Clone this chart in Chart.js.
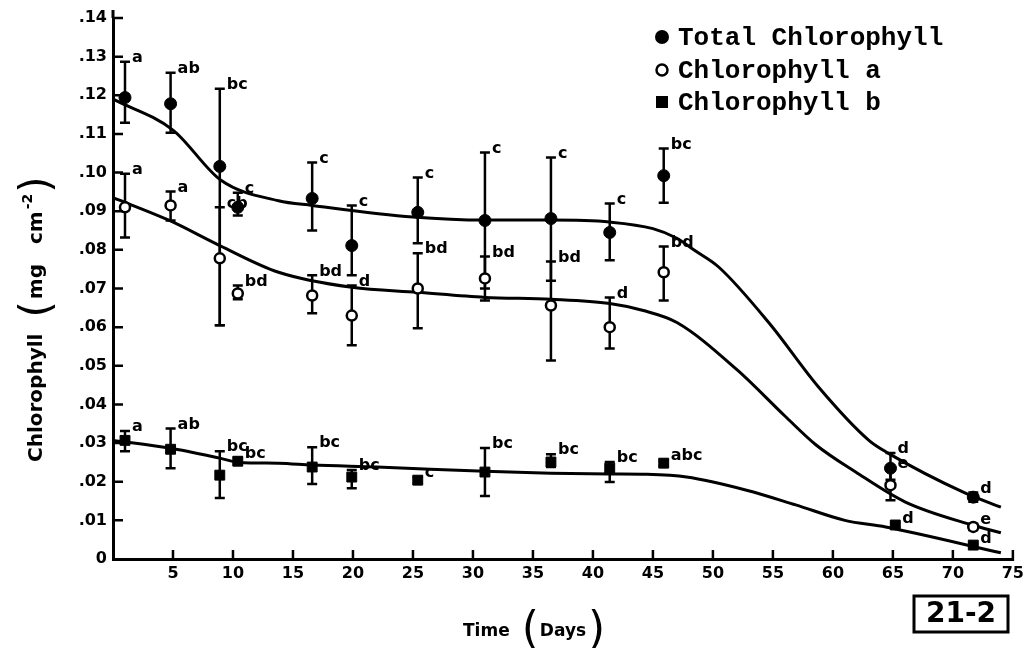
<!DOCTYPE html>
<html><head><meta charset="utf-8">
<script src="https://cdn.jsdelivr.net/npm/chart.js@4.4.1/dist/chart.umd.min.js"></script>
<style>html,body{margin:0;padding:0;background:#fff;overflow:hidden}canvas{display:block}</style>
</head><body>
<canvas id="c" width="1029" height="648"></canvas>
<script>
// ---- data ----
const seriesNames = ['Total Chlorophyll', 'Chlorophyll a', 'Chlorophyll b'];
const xTitleWord = 'Time', xTitleUnit = 'Days';
const yTitleWord = 'Chlorophyll', yTitleUnit = 'mg cm', yTitleExp = '-2';
const plateLabel = '21-2';

const xTicks = [5, 10, 15, 20, 25, 30, 35, 40, 45, 50, 55, 60, 65, 70, 75];
const xTickLabels = ['5','10','15','20','25','30','35','40','45','50','55','60','65','70','75'];
const yTicks = [0, 0.01, 0.02, 0.03, 0.04, 0.05, 0.06, 0.07, 0.08, 0.09, 0.10, 0.11, 0.12, 0.13, 0.14];
const yTickLabels = ['0','.01','.02','.03','.04','.05','.06','.07','.08','.09','.10','.11','.12','.13','.14'];

const totalDays = [1, 4.8, 8.9, 10.4, 16.6, 19.9, 25.4, 31, 36.5, 41.4, 45.9, 64.8, 71.7];
const totalMean = [0.1194, 0.1178, 0.1016, 0.0910, 0.0933, 0.0811, 0.0897, 0.0876, 0.0881, 0.0845, 0.0992, 0.0235, 0.0160];
const totalLow  = [0.1129, 0.1103, 0.0605, 0.0889, 0.0850, 0.0734, 0.0817, 0.0700, 0.0720, 0.0773, 0.0922, 0.0205, 0.0148];
const totalHigh = [0.1287, 0.1258, 0.1217, 0.0948, 0.1026, 0.0915, 0.0987, 0.1052, 0.1039, 0.0920, 0.1062, 0.0274, 0.0172];
const totalLetters = ['a','ab','bc','c','c','c','c','c','c','c','bc','d','d'];

const chlADays = [1, 4.8, 8.9, 10.4, 16.6, 19.9, 25.4, 31, 36.5, 41.4, 45.9, 64.8, 71.7];
const chlAMean = [0.0910, 0.0915, 0.0778, 0.0687, 0.0682, 0.0630, 0.0700, 0.0726, 0.0656, 0.0600, 0.0742, 0.0191, 0.0083];
const chlALow  = [0.0832, 0.0876, 0.0605, 0.0672, 0.0636, 0.0553, 0.0597, 0.0669, 0.0514, 0.0545, 0.0669, 0.0152, 0.0075];
const chlAHigh = [0.0997, 0.0951, 0.0910, 0.0708, 0.0734, 0.0708, 0.0791, 0.0783, 0.0770, 0.0677, 0.0809, 0.0235, 0.0091];
const chlALetters = ['a','a','cb','bd','bd','d','bd','bd','bd','d','bd','e','e'];

const chlBDays = [1, 4.8, 8.9, 10.4, 16.6, 19.9, 25.4, 31, 36.5, 41.4, 45.9, 65.2, 71.7];
const chlBMean = [0.0307, 0.0284, 0.0217, 0.0253, 0.0238, 0.0212, 0.0204, 0.0225, 0.0251, 0.0235, 0.0248, 0.0088, 0.0036];
const chlBLow  = [0.0279, 0.0235, 0.0158, 0.0245, 0.0194, 0.0183, 0.0196, 0.0163, 0.0238, 0.0199, 0.0241, 0.0083, 0.0031];
const chlBHigh = [0.0331, 0.0338, 0.0279, 0.0262, 0.0289, 0.0230, 0.0212, 0.0287, 0.0271, 0.0251, 0.0256, 0.0093, 0.0041];
const chlBLetters = ['a','ab','bc','bc','bc','bc','c','bc','bc','bc','abc','d','d'];

// hand-drawn fitted curves
const totalFitDays   = [0, 5, 9, 13.8, 16.6, 25, 31, 36.5, 41.4, 45, 47, 48.4, 50.5, 54.7, 58.8, 63, 64.6, 71, 74];
const totalFitValues = [0.119, 0.111, 0.098, 0.0927, 0.0915, 0.0885, 0.0877, 0.0877, 0.0872, 0.0855, 0.083, 0.080, 0.0755, 0.061, 0.0445, 0.0307, 0.0274, 0.0171, 0.0134];
const chlAFitDays    = [0, 4.7, 8.9, 13.8, 19.9, 25.4, 31, 36.5, 41.4, 44.2, 47, 52, 56, 58.6, 61.9, 66, 71.6, 74];
const chlAFitValues  = [0.0935, 0.0876, 0.0811, 0.0742, 0.0703, 0.069, 0.0677, 0.0672, 0.0661, 0.0643, 0.0612, 0.049, 0.037, 0.0295, 0.0225, 0.0148, 0.0088, 0.0068];
const chlBFitDays    = [0, 4.7, 8.9, 10.5, 13.8, 16.6, 22, 31, 36.5, 41.4, 44.5, 47.8, 52.8, 56.9, 61, 64.4, 74];
const chlBFitValues  = [0.0307, 0.0287, 0.0261, 0.025, 0.0248, 0.0243, 0.0238, 0.0227, 0.0222, 0.022, 0.0219, 0.0212, 0.0178, 0.014, 0.010, 0.0083, 0.0016];

// ---- build chart ----
const pts = (xs, ys) => xs.map((x, i) => ({x: x, y: ys[i]}));
const markerSeries = [
  {days: totalDays, lo: totalLow, hi: totalHigh, letters: totalLetters},
  {days: chlADays, lo: chlALow, hi: chlAHigh, letters: chlALetters},
  {days: chlBDays, lo: chlBLow, hi: chlBHigh, letters: chlBLetters}
];
const INK = '#000';
const tickFont = {family: 'DejaVu Sans', weight: 'bold', size: 16};

const curve = (xs, ys) => ({type: 'line', data: pts(xs, ys), borderColor: INK, borderWidth: 3,
  pointRadius: 0, cubicInterpolationMode: 'monotone', fill: false, order: 3, clip: false});

const errorBarPlugin = {
  id: 'errorBars',
  beforeDatasetsDraw(chart) {
    const {ctx, scales: {x, y}} = chart;
    ctx.save();
    ctx.strokeStyle = INK; ctx.lineWidth = 2.5; ctx.lineCap = 'butt';
    markerSeries.forEach(s => {
      s.days.forEach((d, i) => {
        const px = x.getPixelForValue(d);
        const yl = y.getPixelForValue(s.lo[i]), yh = y.getPixelForValue(s.hi[i]);
        ctx.beginPath();
        ctx.moveTo(px, yl); ctx.lineTo(px, yh);
        ctx.moveTo(px - 5, yl); ctx.lineTo(px + 5, yl);
        ctx.moveTo(px - 5, yh); ctx.lineTo(px + 5, yh);
        ctx.stroke();
      });
    });
    ctx.restore();
  },
  afterDatasetsDraw(chart) {
    const {ctx, scales: {x, y}} = chart;
    ctx.save();
    ctx.fillStyle = INK;
    ctx.font = 'bold 16px "DejaVu Sans"';
    ctx.textAlign = 'left'; ctx.textBaseline = 'middle';
    markerSeries.forEach(s => {
      s.days.forEach((d, i) => {
        const px = x.getPixelForValue(d);
        const yh = y.getPixelForValue(s.hi[i]);
        ctx.fillText(s.letters[i], px + 7, yh - 4);
      });
    });
    ctx.restore();
  }
};

const decorPlugin = {
  id: 'decor',
  afterDraw(chart) {
    const {ctx, chartArea: a, scales: {x, y}} = chart;
    ctx.save();
    ctx.strokeStyle = INK; ctx.fillStyle = INK; ctx.lineWidth = 2.5;
    // inward tick marks and short axis extension above the top tick
    ctx.beginPath();
    xTicks.forEach(v => { const px = x.getPixelForValue(v); ctx.moveTo(px, a.bottom + 2); ctx.lineTo(px, a.bottom - 9); });
    yTicks.forEach(v => { if (v === 0) return; const py = y.getPixelForValue(v); ctx.moveTo(a.left, py); ctx.lineTo(a.left + 10, py); });
    ctx.stroke();
    ctx.lineWidth = 3;
    ctx.beginPath(); ctx.moveTo(a.left, a.top); ctx.lineTo(a.left, a.top - 8); ctx.stroke();
    // y axis title
    ctx.save();
    ctx.translate(42, 462);
    ctx.rotate(-Math.PI / 2);
    ctx.textBaseline = 'alphabetic'; ctx.textAlign = 'left';
    let cx = 0;
    ctx.font = 'bold 20px "DejaVu Sans"';
    ctx.fillText(yTitleWord, cx, 0); cx += ctx.measureText(yTitleWord).width + 16;
    ctx.font = '42px "DejaVu Sans"';
    ctx.fillText('(', cx, 8); cx += ctx.measureText('(').width + 2;
    ctx.font = 'bold 20px "DejaVu Sans"';
    ctx.fillText(yTitleUnit.split(' ')[0], cx, 0); cx += ctx.measureText(yTitleUnit.split(' ')[0]).width + 20;
    ctx.fillText(yTitleUnit.split(' ')[1], cx, 0); cx += ctx.measureText(yTitleUnit.split(' ')[1]).width + 2;
    ctx.font = 'bold 14px "DejaVu Sans"';
    ctx.fillText(yTitleExp, cx, -10); cx += ctx.measureText(yTitleExp).width + 1;
    ctx.font = '42px "DejaVu Sans"';
    ctx.fillText(')', cx, 8);
    ctx.restore();
    // x axis title
    ctx.textBaseline = 'alphabetic'; ctx.textAlign = 'left';
    let tx = 463;
    ctx.font = 'bold 17px "DejaVu Sans"';
    ctx.fillText(xTitleWord, tx, 636); tx += ctx.measureText(xTitleWord).width + 12;
    ctx.font = '44px "DejaVu Sans"';
    ctx.fillText('(', tx, 643); tx += ctx.measureText('(').width + 1;
    ctx.font = 'bold 17px "DejaVu Sans"';
    ctx.fillText(xTitleUnit, tx, 636); tx += ctx.measureText(xTitleUnit).width + 2;
    ctx.font = '44px "DejaVu Sans"';
    ctx.fillText(')', tx, 643);
    // plate label box
    ctx.lineWidth = 3;
    ctx.strokeRect(914, 596, 94, 36);
    ctx.font = 'bold 28px "DejaVu Sans"';
    ctx.textAlign = 'center'; ctx.textBaseline = 'middle';
    ctx.fillText(plateLabel, 961, 615);
    // legend
    const rows = [37, 70, 102];
    ctx.textAlign = 'left'; ctx.textBaseline = 'middle';
    ctx.font = 'bold 26px "Liberation Mono"';
    seriesNames.forEach((n, i) => {
      const my = rows[i], mx = 662;
      ctx.beginPath();
      if (i === 0) { ctx.arc(mx, my, 7, 0, Math.PI * 2); ctx.fill(); }
      else if (i === 1) { ctx.lineWidth = 2.5; ctx.arc(mx, my, 5.5, 0, Math.PI * 2); ctx.stroke(); }
      else { ctx.fillRect(mx - 6, my - 6, 12, 12); }
      ctx.fillText(n, 678, my + 1);
    });
    ctx.restore();
  }
};

new Chart(document.getElementById('c'), {
  data: {
    datasets: [
      curve(totalFitDays, totalFitValues),
      curve(chlAFitDays, chlAFitValues),
      curve(chlBFitDays, chlBFitValues),
      {type: 'scatter', label: seriesNames[0], data: pts(totalDays, totalMean), pointStyle: 'circle',
        pointRadius: 6, backgroundColor: INK, borderColor: INK, borderWidth: 1, order: 1, clip: false},
      {type: 'scatter', label: seriesNames[1], data: pts(chlADays, chlAMean), pointStyle: 'circle',
        pointRadius: 5, backgroundColor: '#fff', borderColor: INK, borderWidth: 2.5, order: 1, clip: false},
      {type: 'scatter', label: seriesNames[2], data: pts(chlBDays, chlBMean), pointStyle: 'rect',
        pointRadius: 7, backgroundColor: INK, borderColor: INK, borderWidth: 1, order: 1, clip: false}
    ]
  },
  options: {
    responsive: false, animation: false, devicePixelRatio: 1,
    layout: {padding: {top: 18, right: 11, left: 0, bottom: 0}},
    plugins: {legend: {display: false}, tooltip: {enabled: false}},
    scales: {
      x: {type: 'linear', min: 0, max: 75,
        afterBuildTicks: s => { s.ticks = xTicks.map(v => ({value: v})); },
        afterFit: s => { s.height = 89; },
        ticks: {font: tickFont, color: INK, padding: 5, maxRotation: 0, autoSkip: false,
          callback: v => xTickLabels[xTicks.indexOf(v)]},
        grid: {display: true, drawOnChartArea: false, drawTicks: false},
        border: {display: true, width: 3, color: INK}},
      y: {type: 'linear', min: 0, max: 0.14,
        afterBuildTicks: s => { s.ticks = yTicks.map(v => ({value: v})); },
        afterFit: s => { s.width = 113; },
        ticks: {font: tickFont, color: INK, padding: 6, autoSkip: false,
          callback: v => yTickLabels[yTicks.findIndex(t => Math.abs(t - v) < 1e-9)]},
        grid: {display: true, drawOnChartArea: false, drawTicks: false},
        border: {display: true, width: 3, color: INK}}
    }
  },
  plugins: [errorBarPlugin, decorPlugin]
});
</script>
</body></html>
